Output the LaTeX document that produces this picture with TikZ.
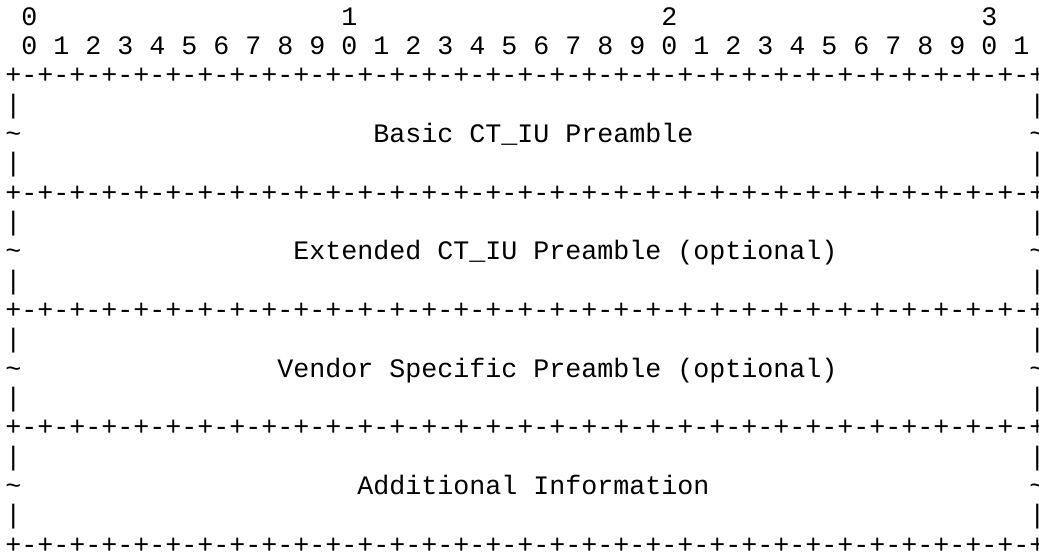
\documentclass[tikz,border=0pt]{standalone}
\usepackage{fontspec}
\setmonofont{Liberation Mono}
\usepackage{tikz}
\usetikzlibrary{positioning}

% one separator line of the word layout
\newcommand{\sepline}{+-+-+-+-+-+-+-+-+-+-+-+-+-+-+-+-+-+-+-+-+-+-+-+-+-+-+-+-+-+-+-+-+}

\begin{document}
\begin{tikzpicture}[
    x = 12pt,
    y = -22pt,
    font = \ttfamily\fontsize{20pt}{22pt}\selectfont,
    txt/.style = {
      anchor=base west,
      inner sep=0pt,
      outer sep=0pt
    }
  ]
    \useasboundingbox (-4pt,18.75pt) rectangle (775.25pt,-396pt);
    % bit ruler
    \foreach \d [count=\i from 0] in {0,1,2,3}
      \node[txt] (tens\i) at (1+20*\i,0) {\d};
    \foreach \b in {0,...,31} {
      \pgfmathtruncatemacro{\u}{mod(\b,10)}
      \node[txt] (bit\b) at (1+2*\b,1) {\u};
    }
    % separators
    \foreach \r [count=\i] in {2,6,10,14,18}
      \node[txt] (sep\i) at (0,\r) {\sepline};
    % side bars
    \foreach \r in {3,5,7,9,11,13,15,17} {
      \node[txt] (lbar\r) at (0,\r) {|};
      \node[txt] (rbar\r) at (64,\r) {|};
    }
    \foreach \r in {4,8,12,16} {
      \node[txt] (ltil\r) at (0,\r) {\textasciitilde};
      \node[txt] (rtil\r) at (64,\r) {\textasciitilde};
    }
    % fields
    \node[txt] (basic) at (23,4) {Basic CT\_IU Preamble};
    \node[txt] (ext) at (18,8) {Extended CT\_IU Preamble (optional)};
    \node[txt] (vendor) at (17,12) {Vendor Specific Preamble (optional)};
    \node[txt] (addinfo) at (22,16) {Additional Information};
  \end{tikzpicture}
\end{document}
